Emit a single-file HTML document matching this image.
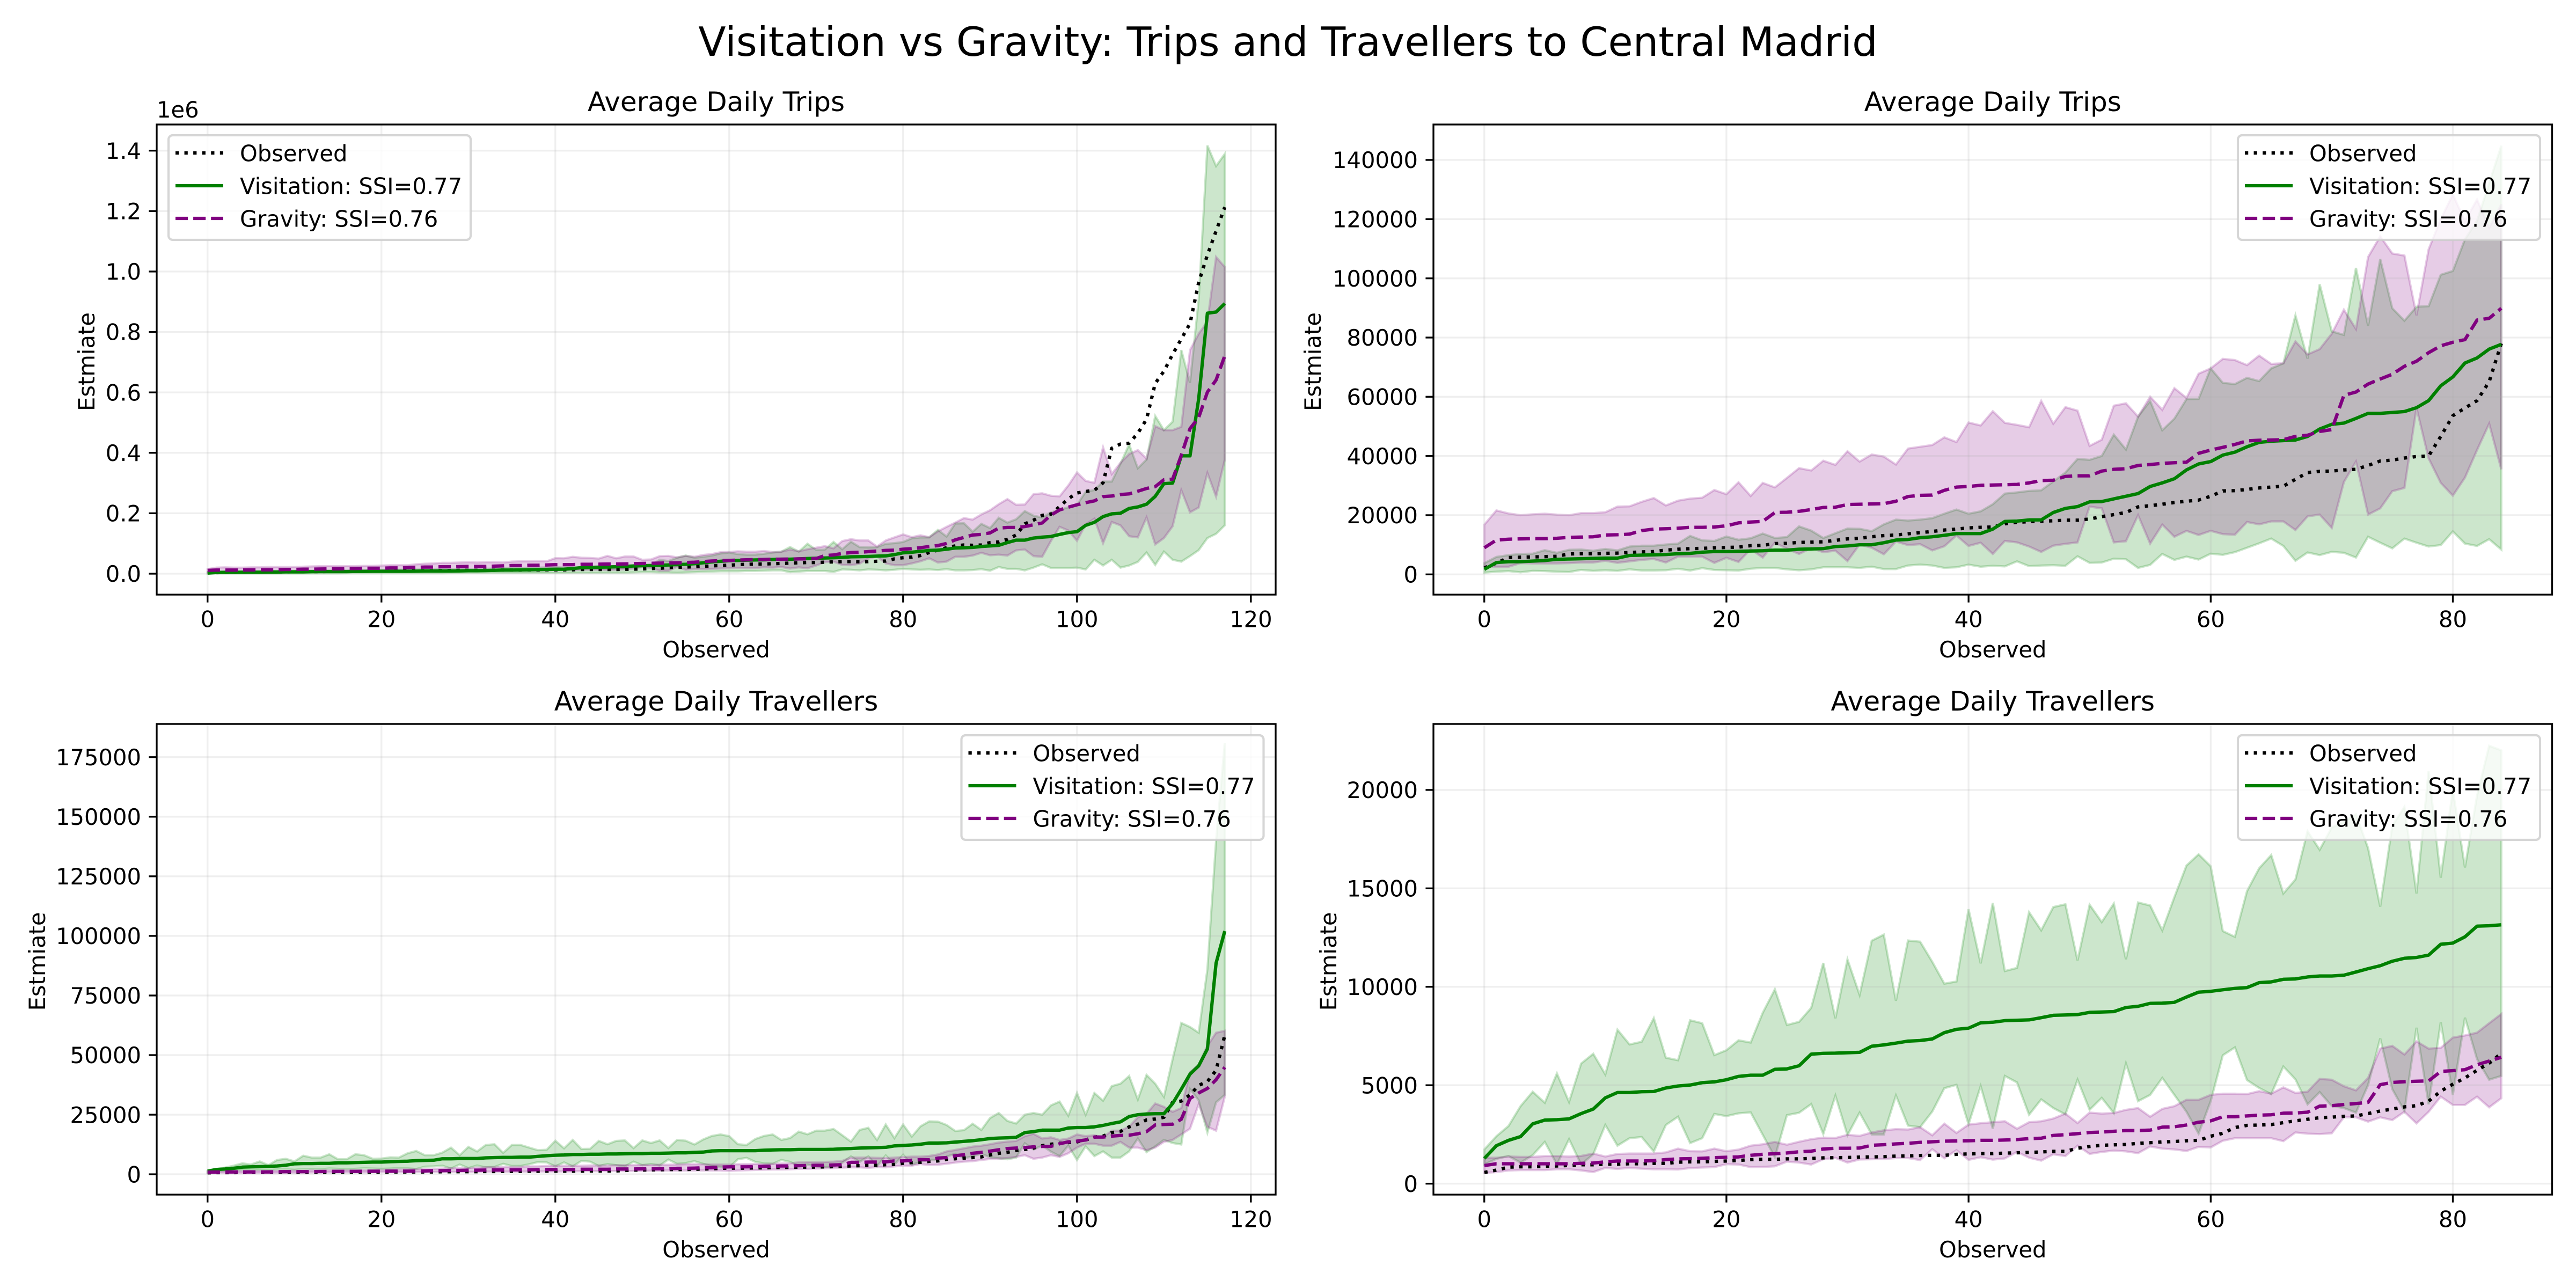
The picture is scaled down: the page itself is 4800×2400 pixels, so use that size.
<!DOCTYPE html>
<html lang="en">
<head>
<meta charset="utf-8">
<title>Visitation vs Gravity</title>
<style>
html,body{margin:0;padding:0;background:#fff;width:4800px;height:2400px;overflow:hidden}
svg{display:block}
text{font-family:"DejaVu Sans","Liberation Sans",sans-serif;fill:#000}
</style>
</head>
<body>
<svg id="chart" xmlns="http://www.w3.org/2000/svg" width="4800" height="2400" viewBox="0 0 4800 2400">
<rect x="0" y="0" width="4800" height="2400" fill="#fff"/>
<text id="suptitle" x="2400" y="104" font-size="75" text-anchor="middle">Visitation vs Gravity: Trips and Travellers to Central Madrid</text>
</svg>
<script>
// Top-left panel: average daily trips, values in thousands (axis offset 1e6)
const tlObserved=[3,3.5,4,4.5,5,5,5.5,5.5,6,6,6.5,6.5,7,7,7.5,7.5,8,8,8.5,8.5,9,9,9.5,9.5,10,10,10,10.5,10.5,11,11,11,11.5,11.5,12,12,12,12.5,12.5,13,
13,13,13,14,14,14,14,14,14.5,15,16,17,18,20,21,22,23,24.5,26,27,28,30,31,32,32,33,34,35,36,37,37,38,39,40,40,39.5,40,41,42,49,53,55,60,70,78,86,92,95,
94,95,103,105,114,128,165,177,193,197,222,248,267,272,276,301,415,429,432,465,511,630,670,726,777,828,964,1055,1134,1213];
const tlVisitation=[2,4,4.5,4.5,5,5,5,5.5,5.5,6,6,6,6.5,7,7,7,7,7.5,7.5,8,8,8,8,8,8.5,9,9,9,9,9.5,10,10,10.5,11,12,12,12.5,13,13.5,14,
14.5,15,17,20,21,21.5,22,23,24,25.5,26.5,27,28,29,30,31,33,36,39,41,43,44,45,45.5,46,47,48,48,49,50,51,52,53,54,56,56.5,57,58,59,63,69,71,74,77,78,81,85,86,
87,90,92,94,103,111,111,118,121,123,130,136,139,160,170,189,198,200,216,221,230,256,298,300,390,390,579,862,866,894];
const tlGravity=[11,12,12,12,12,12.5,13,13,13,14,14,15,15,15.5,16,16,17,17,18,18,18,19,19,20,21,22,22,23,23,23.5,24,24,24,25,26,27,27,28,28,29,
30,30,30,31,31,31.5,32,32,32.5,33,34,34.5,35,35.5,36,37,38,40,42,43,44,45,46,46.5,47,48,48,48.5,49,49,50,60,62,67,70,71,73,75,77,78,81,83,86,90,93,100,112,120,
128,130,135,151,153,153,156,162,168,194,211,220,228,235,241,255,257,262,264,273,282,288,311,313,392,480,517,601,641,721];
const tlVisHigh=[4,6,7,7,7.5,8,8,8.5,9,9,9.5,10,10,10.5,11,11,11,11.5,12,12,12,12.5,13,13,13.5,14,14,14.5,15,15,15.5,16,16,17,18,18.5,19,20,20,21,
22,20,20,20,19,19,19,19,20,25,26,27,46,42,53,60,53,56,60,67,70,65,63,63,66,70,73,88,73,99,79,80,105,81,106,88,87,88,99,101,105,117,120,120,145,123,166,167,
139,165,151,185,169,180,207,192,186,203,211,220,228,271,277,305,305,364,428,349,378,522,475,503,740,632,908,1417,1349,1389];
const tlVisLow=[0.5,1,1,1,1,1,1,1,1,1,1,1,1,1,1,1,1.5,1.5,1.5,1.5,1.5,1.5,1.5,1.5,1.5,1.5,1.5,1.5,2,2,2,2,2,2,2,2,2,2,2,2,
2,2.5,2.5,3,2,2.5,3,3,3.5,4,5,5,4,4,3,4,5,6,7,8,8,8,9,9,10,11,11,5,7,9,9,9,6,14,13,11,14,13,11,13,16,14,13,14,12,15,11,11,
12,15,10,22,16,16,11,20,31,19,19,19,20,14,46,27,46,20,27,39,70,29,73,46,40,58,78,118,132,160];
const tlGravHigh=[15,20,21,20,20,21,21,22,22,22,22,23,24,25,25,25,25,25,26,26,27,28,28,28,31,33,34,36,36,37,38,37,38,38,37,40,41,41,42,41,
51.5,51,56,53,52,50,59,51,57,57,46,47,58,59,54,59,56,62,65,71,72,74,73,73,75,72,73,80,74,81,86,91,84,108,114,110,110,90,110,120,130,121,127,121,140,155,169,184,
179,196,210,230,247,228,229,263,266,258,256,292,335,307,301,418,330,367,396,409,381,488,475,475,486,740,794,834,1048,1015];
const tlGravLow=[4,4,4.5,4.5,5,5,5,5,5.5,5.5,5.5,6,6,6,6.5,6.5,7,7,7,7,7.5,7.5,7.5,8,8,8,8.5,8.5,8.5,9,9,9,9.5,9.5,10,10,10.5,11,11,11.5,
12,12,12,13,13,13,12,13,15,17,22,19,10,10,22,13,15,15,16,17,18,19,18,19,21,20,22,17,21,18,27,38,40,29,28,33,50,57,34,28,28,34,41,51,37,40,56,56,
60,69,61,63,60,77,80,58,56,108,155,143,109,163,182,101,171,160,124,120,186,97,118,157,276,203,219,333,255,377];
const tlYTicks=[0,200,400,600,800,1000,1200,1400];
const tlYLabels=['0.0','0.2','0.4','0.6','0.8','1.0','1.2','1.4'];
const tlXTicks=[0,20,40,60,80,100,120];

// Top-right panel: average daily trips
const trObserved=[2200,3800,5700,5800,5900,6000,6100,6900,7000,7000,7100,7200,7400,7600,7700,8200,
8500,8700,8800,9000,9100,9200,9700,9800,10400,10500,10800,10900,11000,11500,12000,12200,12700,13100,13300,13700,14100,14500,15000,15300,15700,15900,
16000,17100,17600,17800,18000,18100,18300,18300,18700,19500,20200,20900,22800,23200,23700,24300,24700,25100,26400,28200,28300,28700,29200,29500,29800,32100,34400,34800,34900,35300,35500,36800,38300,38600,39300,39800,40000,46600,53600,56200,58700,65100,78000];
const trVisitation=[1700,4000,4300,4300,4500,4700,5100,5200,5300,5400,5500,5500,6400,6500,6600,6700,
7000,7100,7500,7700,7700,7800,7900,8000,8200,8200,8500,8600,8700,9400,9600,10000,10000,10700,11600,11800,12400,12700,13200,13800,13800,13800,
15300,17900,18000,18400,18400,20900,22300,22900,24500,24600,25500,26400,27300,29700,30900,32300,35300,37300,38100,40300,41300,43100,44600,45000,45200,45400,46600,49100,50700,51100,52700,54400,54400,54700,55000,56300,58700,63700,66700,71400,73100,76100,77700];
const trGravity=[9000,11600,11900,12000,12100,12100,12200,12500,12600,12700,13300,13400,13600,14800,15300,15400,
15600,15900,15900,16000,16400,17400,17700,17900,20900,21000,21300,21900,22600,22700,23600,23700,23800,23900,24700,26300,26700,26800,28400,29500,29700,30100,
30200,30300,30400,30900,31700,31800,33100,33300,33300,34900,35500,35700,36800,37100,37500,37700,37900,40900,42000,42900,43900,45100,45300,45400,45500,46600,47000,48300,48900,60500,61600,64300,66000,67600,70300,72000,74900,77200,78400,79300,85900,86500,89900];
const trVisHigh=[3800,5900,6500,6900,7000,8200,7300,8300,8400,8000,8600,8100,9400,9700,9700,10100,
10400,13000,11500,11300,12800,11700,12200,13800,12300,12600,16200,14800,12300,13900,15500,15400,14600,16900,18500,18200,18500,19000,20500,21900,20500,21300,
23700,27300,27700,28200,28400,31400,34400,39000,38700,40000,47200,42200,53300,58600,48700,52600,59200,59300,69600,64700,64300,66400,65300,69600,71300,87500,72900,98000,82100,80900,103500,84000,106500,89900,85700,90400,90600,101200,102500,113200,119400,132100,144800];
const trVisLow=[600,900,1100,700,1200,1100,900,800,1500,1200,1400,1200,1700,1300,1300,1400,
1900,1300,2100,1500,1400,1300,1900,2200,2200,1700,1400,1700,2400,2400,2400,2200,2600,1800,1800,3000,3300,3000,2200,2400,3300,2600,
2900,2700,4400,2800,3000,3100,2900,6100,3900,4000,5300,5100,2200,3200,6900,4900,6000,5000,7000,6600,7500,9000,10500,12100,9600,4600,7400,6500,7600,7300,5700,12700,10700,8800,12100,10700,9400,9900,14500,10400,9600,11900,8400];
const trGravHigh=[16800,21600,20600,20000,20300,20500,20200,20000,20700,20700,21000,22900,23000,24500,25800,23300,
24900,25600,25900,28500,27100,31100,26500,30900,29400,32600,35900,35100,38400,37000,41600,38100,40500,39800,37100,42500,43100,43700,46300,44700,51300,50300,
55100,51200,50500,49700,58600,50900,56500,55300,43400,45500,57000,57800,53300,60000,55600,62900,59600,67800,69600,72800,72400,70700,73900,71100,71300,78700,74300,76100,81300,89400,82900,107200,114200,108400,107700,87500,109800,120000,128300,119400,126600,117100,125000];
const trGravLow=[2700,2500,2600,3800,3700,3700,3700,3800,4000,4000,4600,3900,4400,4900,5200,4000,
6000,6000,6000,3900,5600,4200,8500,5700,10700,8700,6900,8900,7500,8000,4500,10100,9000,6800,11100,9900,10200,8100,9500,13100,9600,10700,
6900,11300,10800,9400,7600,9700,10300,10800,22900,22300,10800,11200,20000,10400,16800,12700,14700,13300,14700,13600,13400,17700,16900,17900,17900,15000,19600,20200,15700,31200,38100,20200,22300,28100,29200,56200,39200,30900,26600,32700,42000,50900,35500];
const trYTicks=[0,20000,40000,60000,80000,100000,120000,140000];
const trYLabels=['0','20000','40000','60000','80000','100000','120000','140000'];
const trXTicks=[0,20,40,60,80];

// Bottom-left panel: average daily travellers, values in thousands
const blObserved=[0.6,0.7,0.7,0.7,0.75,0.75,0.75,0.8,0.8,0.8,0.8,0.8,0.85,0.85,0.85,0.9,0.9,0.9,0.9,0.95,0.95,0.95,1,1,1,1,1,1.05,1.05,1.1,1.1,1.1,1.15,1.15,1.2,1.2,1.2,1.25,1.25,1.3,
1.3,1.3,1.3,1.3,1.4,1.4,1.4,1.4,1.6,1.8,1.8,1.9,1.9,2,2,2,2.1,2.2,2.3,2.5,2.6,2.6,2.6,2.7,2.7,2.8,2.9,2.9,3,3,3,3.1,3.2,3.4,3.5,3.6,3.8,3.8,4,4.1,4.6,4.9,5,5.4,5.6,6.3,6.5,6.8,7,7.3,8.1,8.8,9.2,10,
10.4,11,12,12.6,13,13.3,13.6,14.4,15.6,16,17.5,18,19.9,21,22.8,23.2,23.9,30.2,30.7,33.3,37.3,38.9,43.6,58.3];
const blVisitation=[1.3,2,2.2,2.5,3,3.1,3.2,3.3,3.5,3.8,4.4,4.5,4.5,4.6,4.6,4.8,4.8,4.9,5,5.1,5.1,5.3,5.4,5.5,5.7,5.8,5.9,6.5,6.5,6.6,6.6,6.6,6.9,7,7.1,7.1,7.2,7.2,7.5,7.8,
8,8.1,8.3,8.3,8.4,8.4,8.5,8.5,8.6,8.7,8.7,8.8,8.8,8.9,9,9,9.2,9.3,9.8,9.9,9.9,9.9,9.9,9.9,10.1,10.2,10.3,10.3,10.4,10.4,10.4,10.4,10.5,10.7,10.8,11,11.1,11.2,11.3,11.9,12.1,12.3,12.6,13.1,13.1,13.2,13.5,13.8,14.1,14.5,15,15.2,15.3,15.5,
17.5,17.9,18.5,18.5,18.5,19.4,19.6,19.6,19.9,20.5,21.3,22,24.2,25,25.3,25.4,25.4,29.7,35.7,42,45.5,52.6,88.6,102];
const blGravity=[0.9,0.95,1,1,1,1,1,1,1.05,1.1,1.1,1.1,1.1,1.15,1.2,1.2,1.2,1.2,1.25,1.25,1.3,1.3,1.3,1.3,1.35,1.4,1.5,1.5,1.6,1.6,1.7,1.7,1.75,1.8,1.8,1.85,1.9,1.9,1.95,2,
2,2,2,2.1,2.1,2.1,2.1,2.2,2.2,2.2,2.3,2.3,2.3,2.3,2.5,2.5,2.6,2.7,2.8,3,3.1,3.1,3.1,3.2,3.3,3.4,3.5,3.5,3.6,3.7,3.8,3.8,3.9,4,5,5,5.1,5.1,5.2,5.6,5.6,5.9,6.1,6.1,6.8,7,7.8,8.2,8.8,9.2,9.7,10.3,10.8,11,
11.2,11.5,11.7,11.7,12.8,13.6,13.9,14.4,15.6,15.6,16,16.3,16.4,17,17.9,20.7,20.9,21,23.1,31.8,34.1,36,39.7,44.9];
const blVisHigh=[1.3,2.2,2.8,3.6,4.6,4.1,5.4,3.8,6,6.5,5.4,7.8,7,7,8.4,6.3,6.3,8.4,8,6.5,6.6,7.1,7,8.8,9.8,8,8,9.1,11.2,8,11.5,9.6,12.3,12.6,9,12.3,12.3,11.2,10.1,10.3,
14.1,10.9,14.4,10.6,10.7,14,12.6,14,14.2,11,14.2,13.1,14.2,11,14.4,14.1,12.5,14.6,16.1,16.7,16,12.6,12.3,14.8,16.1,16.7,14.4,15.2,17.9,16.8,18.3,18.3,19,16.4,13.7,18.6,19.5,14.4,20.9,15.2,20.9,15.8,20.1,22.2,22.1,20.7,18.2,18.5,21.2,18.6,23.6,25.7,22.4,21.3,
25,25.7,25,28.9,30.5,24.6,34.1,25,34.1,30.9,37,38,41.2,31.4,41.7,38,32.5,48.3,63.5,61.8,59.4,86,140,181];
const blVisLow=[0.8,1.2,1.4,1.6,1.8,1.7,1.9,1.7,2,2.1,1.9,2.2,2.2,2.1,2.4,2.3,2.1,2.3,2.5,2.4,2.3,2.4,2.6,2.5,2.2,3.2,3.3,3.6,2.4,4.1,2.6,3.7,2.9,3.1,4.4,3.5,3.5,4.2,5.1,5,
3.3,5,3.3,5.6,5.3,3.5,4.3,3.8,3.3,5.3,3.8,4.3,3.7,6.2,4.4,4.7,5.5,4.4,3.5,2.9,2.9,6.3,6.9,5.2,4.6,4.4,6,5.2,3.5,4,3.3,3,3.3,4.8,7.5,5.2,7.5,3.3,7.9,4,8.2,4,5.2,6.1,5.8,7.4,8.6,6.7,7.5,8.6,7.1,6.7,6.3,7,
13,10.4,12,9.5,7.6,12,6,11.7,7.6,9.6,7,7,9.6,15,9.3,11.7,14.4,13.1,12.5,35.7,31,17.5,30.2,33.3];
const blGravHigh=[1.2,1.2,1.3,1.3,1.3,1.3,1.4,1.4,1.4,1.5,1.5,1.5,1.6,1.6,1.6,1.7,1.7,1.7,1.8,1.8,1.9,1.9,2,2,2.1,2.2,2.3,2.4,2.5,2.6,2.7,2.8,2.9,3,3,3.1,3.2,3.3,3.3,3.5,
3.6,3.6,3.6,3.6,3.7,3.7,3.7,3.8,3.8,3.8,3.9,3.9,4,4,4.1,4.2,4.2,4.2,4.1,4.1,4.1,4.2,4.3,4.3,4.3,4.4,4.5,4.6,5,5.1,5.2,5.2,5.3,5.6,7,7,7,6.9,6.8,7,7.2,7.4,7.4,7.7,8.3,9.6,10.2,10.9,11.6,12,12.6,13.3,13.7,14,
16,17,15,15.5,14.4,15,16.7,16,16.4,15.5,18.3,18.3,20,23.9,25.4,29.7,28.3,26.2,27.8,42.8,46,53.9,59.4,60.2];
const blGravLow=[0.5,0.6,0.6,0.6,0.6,0.7,0.7,0.7,0.7,0.7,0.7,0.8,0.8,0.8,0.8,0.8,0.8,0.8,0.8,0.9,0.9,0.9,0.9,0.9,0.9,1,1,1,1,1,1,1,1.1,1.1,1.1,1.1,1.1,1.2,1.2,1.2,
1.2,1.2,1.2,1.3,1.3,1.3,1.3,1.4,1.3,1.4,1.4,1.5,1.5,1.6,1.5,1.6,1.6,1.6,1.6,1.6,1.4,1.6,1.7,1.8,1.9,2,2,2.1,2.3,2.3,2.4,2.5,2.6,2.8,2.9,2.9,2.7,3,2.9,3.3,3.6,3.6,4.3,3.9,4,4.4,4.9,5.3,5.5,6,6.4,6.5,6.8,7.3,
8,6.5,7,8,7.3,8.8,11.2,12.8,12.8,12,12,13.6,11.2,11.2,10.1,11.2,13.6,14.4,16.7,19.1,29.4,19.9,18.3,32.5];
const blYTicks=[0,25,50,75,100,125,150,175];
const blYLabels=['0','25000','50000','75000','100000','125000','150000','175000'];
const blXTicks=[0,20,40,60,80,100,120];

// Bottom-right panel: average daily travellers
const brObserved=[570,690,840,860,860,880,900,920,960,960,990,990,1010,1010,1030,1030,
1090,1110,1110,1130,1150,1180,1220,1240,1240,1260,1260,1280,1310,1320,1330,1350,1360,1370,1400,1410,1430,1440,1440,1490,1510,1530,
1530,1550,1570,1590,1610,1640,1640,1800,1890,1950,1970,1990,2050,2080,2120,2140,2180,2200,2410,2560,2850,2960,2980,3000,3100,3190,3270,3350,3380,3420,3440,3560,3690,3790,3900,3960,4190,4700,5050,5370,5760,6120,6620];
const brVisitation=[1280,1930,2200,2390,3040,3230,3250,3290,3560,3790,4360,4630,4630,4670,4680,4860,
4960,5010,5130,5170,5280,5450,5510,5510,5810,5830,5990,6580,6620,6630,6650,6670,6980,7050,7140,7240,7270,7350,7670,7840,7900,8170,
8200,8280,8300,8320,8430,8550,8570,8590,8700,8720,8740,8950,9010,9160,9170,9210,9480,9730,9770,9850,9920,9960,10210,10250,10380,10400,10500,10550,10550,10590,10750,10920,11070,11300,11450,11490,11610,12160,12220,12540,13080,13100,13150];
const brGravity=[920,1010,1010,1010,1010,1010,1010,1010,1030,1050,1110,1150,1150,1150,1170,1220,
1260,1270,1290,1320,1340,1360,1440,1490,1520,1560,1620,1650,1760,1800,1800,1810,1950,1980,2020,2050,2100,2130,2160,2170,2180,2200,
2200,2220,2240,2290,2310,2450,2490,2540,2600,2620,2660,2700,2700,2720,2870,2890,2980,3120,3190,3400,3400,3440,3480,3500,3580,3590,3630,3940,3960,4020,4070,4130,5030,5140,5180,5200,5220,5700,5740,5790,6040,6230,6420];
const brVisHigh=[1740,2410,2930,3940,4670,4110,5600,4150,6100,6600,5550,7820,7070,7210,8410,6400,
6270,8300,8150,6530,6780,7280,7170,8680,9870,8060,8220,8930,11210,8400,11390,9590,12340,12650,9290,12350,12290,11270,10160,10270,13940,11190,
14260,10800,10960,13790,12870,14050,14190,11340,14170,13290,14230,11400,14280,14130,12870,14550,16160,16730,16120,12830,12540,14860,16020,16690,14740,15450,17900,16960,18090,18370,18760,17040,14070,18180,19140,14740,20960,15540,20000,16060,19710,22240,22010];
const brVisLow=[975,1260,1400,1070,1450,2120,975,2260,975,1490,2980,1930,2310,2370,1630,2980,
3400,2060,2310,3540,3430,3570,3620,2480,1340,3480,3600,4040,2520,4470,2460,3610,2500,2500,4480,2950,2870,3660,4850,5020,3020,4950,
2790,5470,5140,3500,4280,3840,3520,5280,3750,4360,3580,6100,4190,4510,5370,4510,3650,2540,4190,6520,6920,5260,4860,4550,5950,5300,4030,4650,3940,3840,3610,5010,7380,4800,3690,7920,4030,8200,4510,8430,6330,5280,5470];
const brGravHigh=[1320,1320,1380,1360,1360,1400,1400,1380,1410,1530,1380,1510,1530,1530,1530,1590,
1780,1650,1640,1780,1650,1730,1930,2000,2120,1980,2130,2260,2340,2320,2480,2430,2600,2710,2770,2750,2870,2460,3050,2580,3000,3070,
3120,3170,2790,3120,3170,3310,3560,3080,3610,3560,3590,3750,3840,3400,3800,3940,4260,4260,4510,4570,4570,4550,4700,4570,4890,4610,4670,5320,5280,4950,4740,5370,6860,7000,6560,7230,6860,6900,7420,7530,7670,8150,8620];
const brGravLow=[550,590,670,690,690,690,730,730,670,590,800,750,800,760,730,730,
720,790,820,840,990,970,840,850,880,1120,1070,970,1240,1310,1070,1230,1240,1250,1300,1300,1200,1750,1290,1700,1210,1340,
1220,1280,1610,1320,1170,1490,1400,1930,1510,1610,1680,1640,1550,1890,1780,1740,1660,1870,1840,2180,2310,2310,2310,2310,2160,2600,2540,2520,2560,3370,3370,3150,3370,3230,3650,3060,3650,4420,4000,4000,4420,3880,4340];
const brYTicks=[0,5000,10000,15000,20000];
const brYLabels=['0','5000','10000','15000','20000'];
const brXTicks=[0,20,40,60,80];

const legendLabels=['Observed','Visitation: SSI=0.77','Gravity: SSI=0.76'];

const NS='http://www.w3.org/2000/svg';
const root=document.getElementById('chart');
function mk(tag,attrs,parent){
  const n=document.createElementNS(NS,tag);
  for(const k in attrs){n.setAttribute(k,attrs[k]);}
  (parent||root).appendChild(n);
  return n;
}
function makeX(p,count){
  const span=count-1, lo=-0.05*span, hi=1.05*span;
  return v=>p.left+(v-lo)/(hi-lo)*(p.right-p.left);
}
function makeY(p,ticks){
  const top=ticks[ticks.length-1];
  return v=>p.zeroPx+(v/top)*(p.topTickPx-p.zeroPx);
}
function linePath(vals,x,y){
  return vals.map((v,i)=>(i?'L':'M')+x(i).toFixed(1)+' '+y(v).toFixed(1)).join('');
}
function bandPath(low,high,x,y){
  let d=high.map((v,i)=>(i?'L':'M')+x(i).toFixed(1)+' '+y(v).toFixed(1)).join('');
  for(let i=low.length-1;i>=0;i--){d+='L'+x(i).toFixed(1)+' '+y(low[i]).toFixed(1);}
  return d+'Z';
}
const LINE=6.25, THIN=3.33, GREEN='#008000', PURPLE='#800080';
const DOT='6.25 10.31', DASH='23.1 10';

function drawPanel(p,s){
  const g=mk('g',{});
  
  
  const x=makeX(p,s.observed.length), y=makeY(p,s.yTicks);

  const bg=mk('rect',{x:p.left,y:p.top,width:p.right-p.left,height:p.bottom-p.top,fill:'#fff'},g);
  
  

  const bandV=mk('path',{d:bandPath(s.visLow,s.visHigh,x,y),fill:GREEN,'fill-opacity':0.2,stroke:GREEN,'stroke-opacity':0.2,'stroke-width':4.17,'stroke-linejoin':'miter'},g);
  
  
  const bandG=mk('path',{d:bandPath(s.gravLow,s.gravHigh,x,y),fill:PURPLE,'fill-opacity':0.2,stroke:PURPLE,'stroke-opacity':0.2,'stroke-width':4.17,'stroke-linejoin':'miter'},g);
  
  

  s.xTicks.forEach(t=>{
    const gl=mk('line',{x1:x(t),x2:x(t),y1:p.top,y2:p.bottom,stroke:'#b0b0b0','stroke-opacity':0.2,'stroke-width':THIN},g);
    
    
  });
  s.yTicks.forEach(t=>{
    const gl=mk('line',{x1:p.left,x2:p.right,y1:y(t),y2:y(t),stroke:'#b0b0b0','stroke-opacity':0.2,'stroke-width':THIN},g);
    
    
  });

  const lo=mk('path',{d:linePath(s.observed,x,y),fill:'none',stroke:'#000','stroke-width':LINE,'stroke-dasharray':DOT,'stroke-linejoin':'round'},g);
  
  
  const lv=mk('path',{d:linePath(s.visitation,x,y),fill:'none',stroke:GREEN,'stroke-width':LINE,'stroke-linejoin':'round'},g);
  
  
  const lg=mk('path',{d:linePath(s.gravity,x,y),fill:'none',stroke:PURPLE,'stroke-width':LINE,'stroke-dasharray':DASH,'stroke-linejoin':'round'},g);
  
  

  s.xTicks.forEach(t=>{
    const tk=mk('line',{x1:x(t),x2:x(t),y1:p.bottom,y2:p.bottom+14.6,stroke:'#000','stroke-width':THIN},g);
    
    
    const tl=mk('text',{x:x(t),y:p.bottom+60.5,'font-size':41.67,'text-anchor':'middle'},g);
    tl.textContent=String(t);
    
    
  });
  s.yTicks.forEach((t,i)=>{
    const tk=mk('line',{x1:p.left-14.6,x2:p.left,y1:y(t),y2:y(t),stroke:'#000','stroke-width':THIN},g);
    
    
    const tl=mk('text',{x:p.left-29,y:y(t)+15.2,'font-size':41.67,'text-anchor':'end'},g);
    tl.textContent=s.yLabels[i];
    
    
  });

  const frame=mk('rect',{x:p.left,y:p.top,width:p.right-p.left,height:p.bottom-p.top,fill:'none',stroke:'#000','stroke-width':THIN},g);
  
  

  const cx=(p.left+p.right)/2;
  const title=mk('text',{x:cx,y:p.top-25,'font-size':50,'text-anchor':'middle'},g);
  title.textContent=p.title;
  
  
  const xl=mk('text',{x:cx,y:p.bottom+117,'font-size':41.67,'text-anchor':'middle'},g);
  xl.textContent='Observed';
  
  
  const cy=(p.top+p.bottom)/2+4;
  const yl=mk('text',{x:p.yLabelX,y:cy,'font-size':41.67,'text-anchor':'middle',transform:'rotate(-90 '+p.yLabelX+' '+cy+')'},g);
  yl.textContent='Estmiate';
  
  

  if(p.offsetText){
    const off=mk('text',{x:p.left,y:p.top-13,'font-size':41.67},g);
    off.textContent=p.offsetText;
    
    
  }

  const L=mk('g',{},g);
  
  
  const box=mk('rect',{x:p.legendX,y:p.legendY,width:p.legendW,height:195,rx:8,ry:8,fill:'#fff','fill-opacity':0.8,stroke:'#ccc','stroke-opacity':0.8,'stroke-width':4.17},L);
  
  
  const styles=[['#000',DOT],[GREEN,null],[PURPLE,DASH]];
  legendLabels.forEach((lab,i)=>{
    const ry=p.legendY+33+i*61;
    const h=mk('line',{x1:p.legendX+13,x2:p.legendX+102,y1:ry,y2:ry,stroke:styles[i][0],'stroke-width':LINE},L);
    if(styles[i][1]){h.setAttribute('stroke-dasharray',styles[i][1]);}
    
    
    const t=mk('text',{x:p.legendX+133,y:ry+15.5,'font-size':41.67},L);
    t.textContent=lab;
    
    
  });
}

drawPanel({name:'trips-panel-all',title:'Average Daily Trips',left:292,right:2377,top:232,bottom:1108,zeroPx:1069,topTickPx:280.7,yLabelX:176,offsetText:'1e6',legendX:314,legendY:252,legendW:563},
 {observed:tlObserved,visitation:tlVisitation,gravity:tlGravity,visHigh:tlVisHigh,visLow:tlVisLow,gravHigh:tlGravHigh,gravLow:tlGravLow,yTicks:tlYTicks,yLabels:tlYLabels,xTicks:tlXTicks});
drawPanel({name:'trips-panel-zoomed',title:'Average Daily Trips',left:2671,right:4755.5,top:232,bottom:1108,zeroPx:1070.3,topTickPx:298,yLabelX:2461,legendX:4170,legendY:252,legendW:563},
 {observed:trObserved,visitation:trVisitation,gravity:trGravity,visHigh:trVisHigh,visLow:trVisLow,gravHigh:trGravHigh,gravLow:trGravLow,yTicks:trYTicks,yLabels:trYLabels,xTicks:trXTicks});
drawPanel({name:'travellers-panel-all',title:'Average Daily Travellers',left:292,right:2377,top:1349,bottom:2226,zeroPx:2188.1,topTickPx:1410.8,yLabelX:84,legendX:1791.5,legendY:1370,legendW:563},
 {observed:blObserved,visitation:blVisitation,gravity:blGravity,visHigh:blVisHigh,visLow:blVisLow,gravHigh:blGravHigh,gravLow:blGravLow,yTicks:blYTicks,yLabels:blYLabels,xTicks:blXTicks});
drawPanel({name:'travellers-panel-zoomed',title:'Average Daily Travellers',left:2671,right:4755.5,top:1349,bottom:2226,zeroPx:2205.6,topTickPx:1471.9,yLabelX:2490,legendX:4170,legendY:1370,legendW:563},
 {observed:brObserved,visitation:brVisitation,gravity:brGravity,visHigh:brVisHigh,visLow:brVisLow,gravHigh:brGravHigh,gravLow:brGravLow,yTicks:brYTicks,yLabels:brYLabels,xTicks:brXTicks});
</script>
</body>
</html>
